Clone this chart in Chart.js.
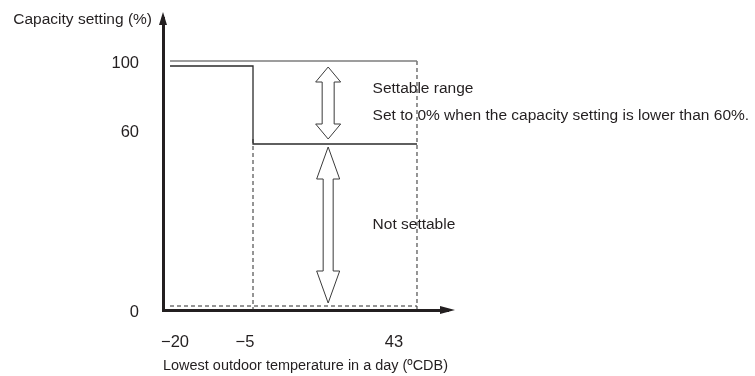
<!DOCTYPE html>
<html>
<head>
<meta charset="utf-8">
<script src="https://cdn.jsdelivr.net/npm/chart.js@4.4.1/dist/chart.umd.min.js"></script>
<style>
  html, body { margin: 0; padding: 0; background: #fff; }
  canvas { display: block; }
</style>
</head>
<body>
<canvas id="chart" width="755" height="376"></canvas>
<script>
// axis ticks
const tempTicks = [-20, -5, 43];
const capacityTicks = [0, 60, 100];

// upper limit of the setting (thin grey line)
const limitTemps = [-20, 43];
const limitCaps = [100, 100];

// capacity setting against lowest outdoor temperature
const settingTemps = [-20, -5, -5, 43];
const settingCaps = [100, 100, 60, 60];

// dashed guides
const floorTemps = [-20, 43];
const floorCaps = [0, 0];
const guideLowTemps = [-5, -5];
const guideLowCaps = [60, 0];
const guideHighTemps = [43, 43];
const guideHighCaps = [100, 0];

const noteTexts = [
  'Settable range',
  'Set to 0% when the capacity setting is lower than 60%.',
  'Not settable'
];
const xTitle = 'Lowest outdoor temperature in a day (ºCDB)';
const yTitle = 'Capacity setting (%)';

const INK = '#231f20';
const FONT = "'Liberation Sans', Arial, sans-serif";

const pts = (xs, ys) => xs.map((x, i) => ({ x, y: ys[i] }));

// not-to-scale axis: anchor values sit at fixed fractions of the axis, linear in between
class SchematicScale extends Chart.LinearScale {
  static id = 'schematic';

  getPixelForValue(value) {
    const { anchors, spots } = this.options;
    let i = 1;
    while (i < anchors.length - 1 && value > anchors[i]) i++;
    const t = (value - anchors[i - 1]) / (anchors[i] - anchors[i - 1]);
    return this.getPixelForDecimal(spots[i - 1] + t * (spots[i] - spots[i - 1]));
  }

  getValueForPixel(pixel) {
    const { anchors, spots } = this.options;
    const d = this.getDecimalForPixel(pixel);
    let i = 1;
    while (i < spots.length - 1 && d > spots[i]) i++;
    const t = (d - spots[i - 1]) / (spots[i] - spots[i - 1]);
    return anchors[i - 1] + t * (anchors[i] - anchors[i - 1]);
  }

  // labels are drawn a little off their tick in the drawing
  getPixelForTick(index) {
    const px = super.getPixelForTick(index);
    const nudge = this.options.ticks.nudge;
    return px === null || !nudge ? px : px + (nudge[index] || 0);
  }
}
Chart.register(SchematicScale);

// fixed box sizes, no extra label padding around the plot
function fixBox(size) {
  return s => {
    if (s.isHorizontal()) s.height = size; else s.width = size;
    s.paddingTop = s.paddingBottom = s.paddingLeft = s.paddingRight = 0;
  };
}

function doubleArrow(ctx, x, top, bottom, head, halfHead, halfShaft) {
  ctx.beginPath();
  ctx.moveTo(x, top);
  ctx.lineTo(x + halfHead, top + head);
  ctx.lineTo(x + halfShaft, top + head);
  ctx.lineTo(x + halfShaft, bottom - head);
  ctx.lineTo(x + halfHead, bottom - head);
  ctx.lineTo(x, bottom);
  ctx.lineTo(x - halfHead, bottom - head);
  ctx.lineTo(x - halfShaft, bottom - head);
  ctx.lineTo(x - halfShaft, top + head);
  ctx.lineTo(x - halfHead, top + head);
  ctx.closePath();
  ctx.fill();
  ctx.stroke();
}

const decorations = {
  id: 'decorations',
  // some lines are drawn a few pixels apart so overlapping ones stay visible
  beforeDatasetDraw(chart, args) {
    const dy = chart.data.datasets[args.index].shiftY;
    if (dy) {
      chart.ctx.save();
      chart.ctx.translate(0, dy);
    }
  },
  afterDatasetDraw(chart, args) {
    if (chart.data.datasets[args.index].shiftY) chart.ctx.restore();
  },
  afterDraw(chart, args, opts) {
    const { ctx, chartArea: a, scales: { x, y } } = chart;
    ctx.save();

    // axis arrow heads
    ctx.fillStyle = INK;
    ctx.beginPath();
    ctx.moveTo(a.left, a.top - 6);
    ctx.lineTo(a.left - 4, a.top + 7);
    ctx.lineTo(a.left + 4, a.top + 7);
    ctx.closePath();
    ctx.fill();
    ctx.beginPath();
    ctx.moveTo(a.right + 7, a.bottom);
    ctx.lineTo(a.right - 8, a.bottom - 4);
    ctx.lineTo(a.right - 8, a.bottom + 4);
    ctx.closePath();
    ctx.fill();

    // y axis caption
    ctx.font = '15.5px ' + FONT;
    ctx.textBaseline = 'middle';
    ctx.textAlign = 'right';
    ctx.fillText(yTitle, a.left - 11, 20);

    // range arrows
    ctx.fillStyle = '#fff';
    ctx.strokeStyle = '#3a3a3a';
    ctx.lineWidth = 1;
    opts.arrows.forEach(r => {
      const px = x.getPixelForValue(r.x);
      doubleArrow(ctx, px,
        y.getPixelForValue(r.from) + r.gapTop,
        y.getPixelForValue(r.to) - r.gapBottom,
        r.head, r.halfHead, r.halfShaft);
    });

    // notes
    ctx.fillStyle = INK;
    ctx.textAlign = 'left';
    opts.notes.forEach(n => {
      ctx.fillText(n.text, x.getPixelForValue(n.x), y.getPixelForValue(n.y));
    });
    ctx.restore();
  }
};

const solid = (color, width) => ({
  borderColor: color, borderWidth: width, pointRadius: 0, fill: false, clip: false
});
const dashed = () => ({
  borderColor: '#2b2b2b', borderWidth: 1, borderDash: [4, 3], pointRadius: 0, fill: false, clip: false
});

new Chart(
  document.getElementById('chart'),
  {
    type: 'line',
    data: {
      datasets: [
        { data: pts(limitTemps, limitCaps), ...solid('#7d7d7d', 1.5) },
        { data: pts(settingTemps, settingCaps), ...solid('#2b2b2b', 1.3), shiftY: 5 },
        { data: pts(floorTemps, floorCaps), ...dashed(), shiftY: -4 },
        { data: pts(guideLowTemps, guideLowCaps), ...dashed() },
        { data: pts(guideHighTemps, guideHighCaps), ...dashed() },
      ]
    },
    options: {
      responsive: false,
      animation: false,
      layout: {
        padding: { top: 18, right: 307, left: 0, bottom: 0 }
      },
      plugins: {
        legend: { display: false },
        tooltip: { enabled: false },
        decorations: {
          arrows: [
            { x: 17, from: 100, to: 60, gapTop: 6, gapBottom: 0, head: 15, halfHead: 12.5, halfShaft: 6 },
            { x: 17, from: 60, to: 0, gapTop: 8, gapBottom: 7, head: 32, halfHead: 11.5, halfShaft: 5 },
          ],
          notes: [
            { text: noteTexts[0], x: 30, y: 86 },
            { text: noteTexts[1], x: 30, y: 72 },
            { text: noteTexts[2], x: 30, y: 30 },
          ]
        }
      },
      scales: {
        x: {
          type: 'schematic',
          position: 'bottom',
          min: -22,
          max: 50,
          anchors: [-22, -20, -5, 43, 50],
          spots: [0, 0.0246, 0.3158, 0.8912, 1],
          afterBuildTicks: s => { s.ticks = tempTicks.map(v => ({ value: v })); },
          afterFit: fixBox(66),
          grid: { display: false },
          border: { color: INK, width: 3 },
          ticks: {
            color: INK,
            font: { family: FONT, size: 16.5 },
            padding: 15,
            maxRotation: 0,
            autoSkip: false,
            nudge: [5, -8, -23],
            callback: v => String(v).replace('-', '\u2212'),
          },
          title: {
            display: true,
            text: xTitle,
            align: 'start',
            color: INK,
            font: { family: FONT, size: 15.5 },
            padding: { top: 0, bottom: 1 },
          }
        },
        y: {
          type: 'schematic',
          position: 'left',
          min: 0,
          max: 120,
          anchors: [0, 60, 100, 120],
          spots: [0, 0.5856, 0.8527, 1],
          afterBuildTicks: s => { s.ticks = capacityTicks.map(v => ({ value: v })); },
          afterFit: fixBox(163),
          grid: { display: false },
          border: { color: INK, width: 3 },
          ticks: {
            color: INK,
            font: { family: FONT, size: 16.5 },
            padding: 16,
            nudge: [2, -7, 2],
          }
        }
      }
    },
    plugins: [decorations]
  }
);
</script>
</body>
</html>
